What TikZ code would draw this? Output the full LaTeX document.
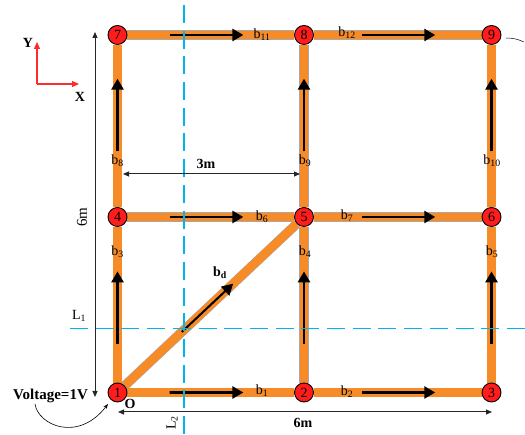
\documentclass[tikz,border=0pt]{standalone}
\usepackage{fontspec}
\setmainfont{Liberation Serif}
\usetikzlibrary{positioning,arrows.meta,backgrounds,calc}
\definecolor{barfill}{HTML}{F68B28}
\definecolor{baredge}{HTML}{A8A8A8}
\definecolor{busred}{HTML}{FF1C1C}
\definecolor{cutline}{HTML}{00B4F0}
\definecolor{axisred}{HTML}{FF2A2A}
\newcommand{\bname}[1]{b\textsubscript{#1}}
\tikzset{
  bus/.style={circle, draw=black, fill=busred, line width=0.9pt, minimum size=19pt, inner sep=0pt, font=\fontsize{14}{14}\selectfont},
  bar/.style={draw=baredge, line width=0.5pt, double=barfill, double distance=8.5pt},
  flow/.style={-{Triangle[length=11pt, width=12pt]}, draw=black, line width=2.6pt},
  dim/.style={{Triangle[length=6pt, width=5pt]}-{Triangle[length=6pt, width=5pt]}, draw=black!85, line width=1pt},
  cut/.style={draw=cutline, line width=1.2pt, dash pattern=on 18pt off 7.7pt},
  axis/.style={-{Triangle[length=7pt, width=6pt]}, draw=axisred, line width=1.1pt},
  lab/.style={font=\fontsize{14}{14}\selectfont, inner sep=0pt},
  blab/.style={lab, font=\fontsize{14}{14}\selectfont\bfseries},
}
\begin{document}
\begin{tikzpicture}[x=1pt, y=1pt, on grid]
    \useasboundingbox (0,0) rectangle (525,435);
    \node[bus] (n1) at (117.5,42.5) {1};
    \node[bus, right=186.5pt of n1] (n2) {2};
    \node[bus, right=187.5pt of n2] (n3) {3};
    \node[bus, above=175.5pt of n1] (n4) {4};
    \node[bus, above=175.5pt of n2] (n5) {5};
    \node[bus, above=175.5pt of n3] (n6) {6};
    \node[bus, above=182pt of n4] (n7) {7};
    \node[bus, above=182pt of n5] (n8) {8};
    \node[bus, above=182pt of n6] (n9) {9};
    \begin{scope}[on background layer]
      \draw[bar] (n1)--(n2); \draw[bar] (n2)--(n3);
      \draw[bar] (n4)--(n5); \draw[bar] (n5)--(n6);
      \draw[bar] (n7)--(n8); \draw[bar] (n8)--(n9);
      \draw[bar] (n1)--(n4); \draw[bar] (n4)--(n7);
      \draw[bar] (n2)--(n5); \draw[bar] (n5)--(n8);
      \draw[bar] (n3)--(n6); \draw[bar] (n6)--(n9);
      \draw[bar] (n1)--(n5);
    \end{scope}
    % branch arrows
    \draw[flow] ($(n1)!0.28!(n2)$) -- ($(n1)!0.675!(n2)$);
    \draw[flow] ($(n2)!0.31!(n3)$) -- ($(n2)!0.70!(n3)$);
    \draw[flow] ($(n4)!0.28!(n5)$) -- ($(n4)!0.675!(n5)$);
    \draw[flow] ($(n5)!0.31!(n6)$) -- ($(n5)!0.70!(n6)$);
    \draw[flow] ($(n7)!0.28!(n8)$) -- ($(n7)!0.675!(n8)$);
    \draw[flow] ($(n8)!0.31!(n9)$) -- ($(n8)!0.70!(n9)$);
    \draw[flow] ($(n1)!0.276!(n4)$) -- ($(n1)!0.69!(n4)$);
    \draw[flow] ($(n2)!0.276!(n5)$) -- ($(n2)!0.69!(n5)$);
    \draw[flow] ($(n3)!0.276!(n6)$) -- ($(n3)!0.69!(n6)$);
    \draw[flow] ($(n4)!0.36!(n7)$) -- ($(n4)!0.76!(n7)$);
    \draw[flow] ($(n5)!0.36!(n8)$) -- ($(n5)!0.76!(n8)$);
    \draw[flow] ($(n6)!0.36!(n9)$) -- ($(n6)!0.76!(n9)$);
    \draw[flow, line width=2pt] ($(n1)!0.345!(n5)$) -- ($(n1)!0.62!(n5)$);
    % cut lines
    \coordinate (l1a) at (70,106.5); \coordinate (l1b) at (525,106.5);
    \coordinate (l2a) at (184,430); \coordinate (l2b) at (184,0);
    \draw[cut] (l1a)--(l1b);
    \draw[cut] (l2a)--(l2b);
    % dimensions
    \coordinate (d6a) at (95,38); \coordinate (d6b) at (95,403);
    \coordinate (d3a) at (123,261); \coordinate (d3b) at (300,261);
    \coordinate (dha) at (118,23); \coordinate (dhb) at (492,23);
    \draw[dim] (d6a)--(d6b);
    \draw[dim] (d3a)--(d3b);
    \draw[dim] (dha)--(dhb);
    % axes
    \coordinate (ax0) at (37,351); \coordinate (axy) at (37,393); \coordinate (axx) at (79,351);
    \draw[axis] (ax0)--(axy);
    \draw[axis] (ax0)--(axx);
    \node[blab] (ylab) at (28,392) {Y};
    \node[blab] (xlab) at (80,338) {X};
    % labels
    \node[lab] (b1) at (262,44) {\bname{1}};
    \node[lab] (b2) at (347,43) {\bname{2}};
    \node[lab] (b3) at (117.5,183) {\bname{3}};
    \node[lab] (b4) at (305,183) {\bname{4}};
    \node[lab] (b5) at (492,183) {\bname{5}};
    \node[lab] (b6) at (262,218) {\bname{6}};
    \node[lab] (b7) at (347,219) {\bname{7}};
    \node[lab] (b8) at (117.5,274) {\bname{8}};
    \node[lab] (b9) at (305,274) {\bname{9}};
    \node[lab] (b10) at (492,274) {\bname{10}};
    \node[lab] (b11) at (262,400) {\bname{11}};
    \node[lab] (b12) at (347,402) {\bname{12}};
    \node[blab] (bd) at (220,162) {\bname{d}};
    \node[lab] (l1) at (79,119) {L\textsubscript{1}};
    \node[lab, rotate=90] (l2) at (172,12) {L\textsubscript{2}};
    \node[blab] (m3) at (206,271) {3m};
    \node[lab, rotate=90, font=\fontsize{15}{15}\selectfont] (m6v) at (82,218) {6m};
    \node[blab] (m6h) at (303,12) {6m};
    \node[blab] (o) at (130,31) {O};
    \node[blab, font=\fontsize{15}{15}\selectfont\bfseries] (volt) at (50.5,39) {Voltage=1V};
    % supply curve
    \coordinate (vend) at (108,31);
    \draw[-{Stealth[length=5pt]}, line width=0.6pt] (35,31) .. controls (38,10) and (78,-8) .. (vend);
    \coordinate (ta) at (506,397); \coordinate (tb) at (524,393);
    \draw[line width=0.5pt] (ta) to[bend left=12] (tb);
\end{tikzpicture}
\end{document}
